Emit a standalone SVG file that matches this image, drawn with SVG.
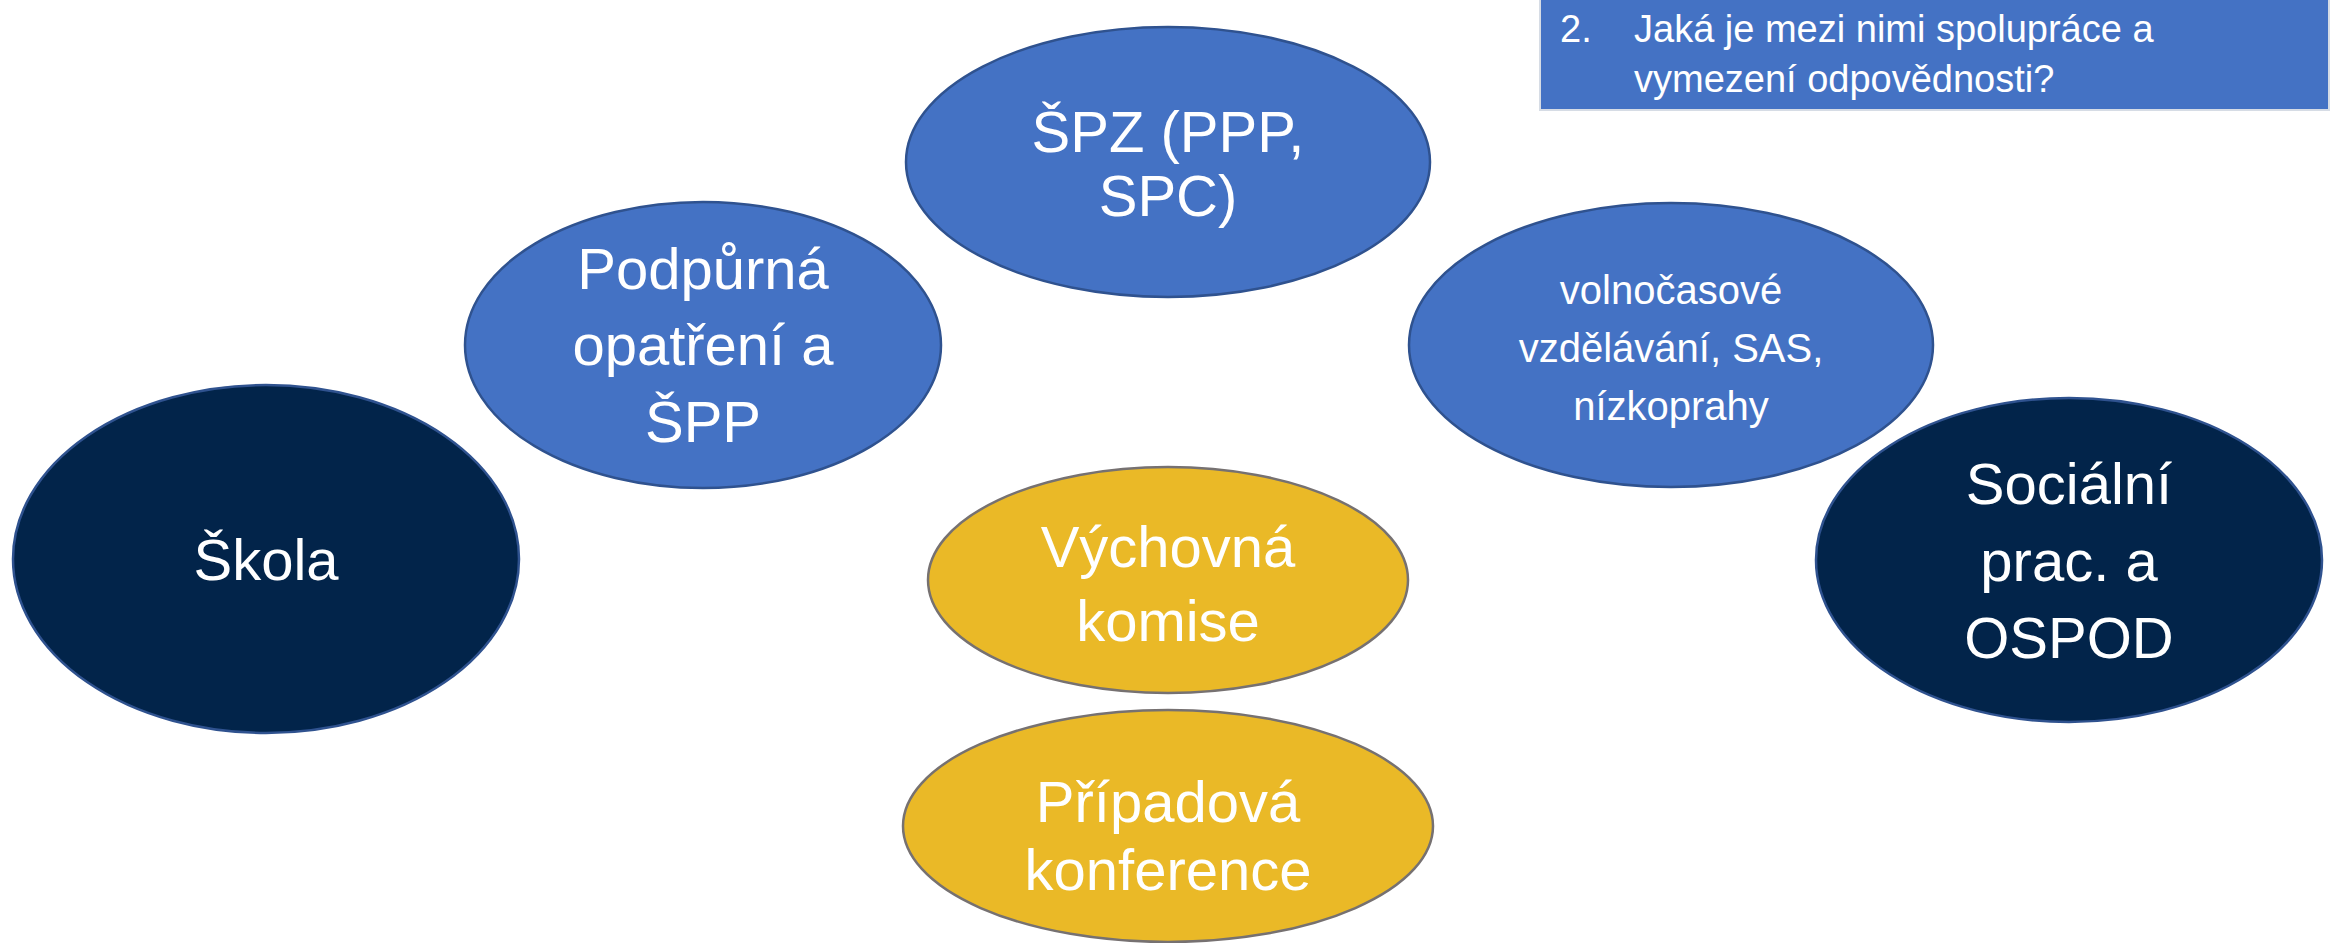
<svg xmlns="http://www.w3.org/2000/svg" width="2338" height="943" viewBox="0 0 2338 943">
<style>
.blue{fill:#4472C4;stroke:#2F528F;stroke-width:2.5}
.navy{fill:#02244A;stroke:#2F528F;stroke-width:2.5}
.gold{fill:#EAB927;stroke:#767171;stroke-width:2.5}
text{font-family:"Liberation Sans",Arial,sans-serif;fill:#FFFFFF;text-anchor:middle}
.big{font-size:58px}
.mid{font-size:40px}
.box{font-size:38px;text-anchor:start}
</style>
<rect width="2338" height="943" fill="#FFFFFF"/>
<g id="question">
<rect x="1540" y="-2" width="789" height="112" fill="#4472C4" stroke="#D6DCE5" stroke-width="2"/>
<text class="box" x="1560" y="42">2.</text>
<text class="box" x="1634" y="42">Jaká je mezi nimi spolupráce a</text>
<text class="box" x="1634" y="92">vymezení odpovědnosti?</text>
</g>
<g id="connectors"></g>
<g id="spz">
<ellipse class="blue" cx="1168" cy="162" rx="262" ry="135"/>
<text class="big" x="1168" y="152">ŠPZ (PPP,</text>
<text class="big" x="1168" y="216">SPC)</text>
</g>
<g id="podpurna">
<ellipse class="blue" cx="703" cy="345" rx="238" ry="143"/>
<text class="big" x="703" y="289">Podpůrná</text>
<text class="big" x="703" y="365">opatření a</text>
<text class="big" x="703" y="442">ŠPP</text>
</g>
<g id="skola">
<ellipse class="navy" cx="266" cy="559" rx="253" ry="174"/>
<text class="big" x="266" y="580">Škola</text>
</g>
<g id="volnocasove">
<ellipse class="blue" cx="1671" cy="345" rx="262" ry="142"/>
<text class="mid" x="1671" y="304">volnočasové</text>
<text class="mid" x="1671" y="362">vzdělávání, SAS,</text>
<text class="mid" x="1671" y="420">nízkoprahy</text>
</g>
<g id="socialni">
<ellipse class="navy" cx="2069" cy="560" rx="253" ry="162"/>
<text class="big" x="2069" y="504">Sociální</text>
<text class="big" x="2069" y="581">prac. a</text>
<text class="big" x="2069" y="658">OSPOD</text>
</g>
<g id="vychovna">
<ellipse class="gold" cx="1168" cy="580" rx="240" ry="113"/>
<text class="big" x="1168" y="567">Výchovná</text>
<text class="big" x="1168" y="641">komise</text>
</g>
<g id="pripadova">
<ellipse class="gold" cx="1168" cy="826" rx="265" ry="116"/>
<text class="big" x="1168" y="822">Případová</text>
<text class="big" x="1168" y="890">konference</text>
</g>
</svg>
